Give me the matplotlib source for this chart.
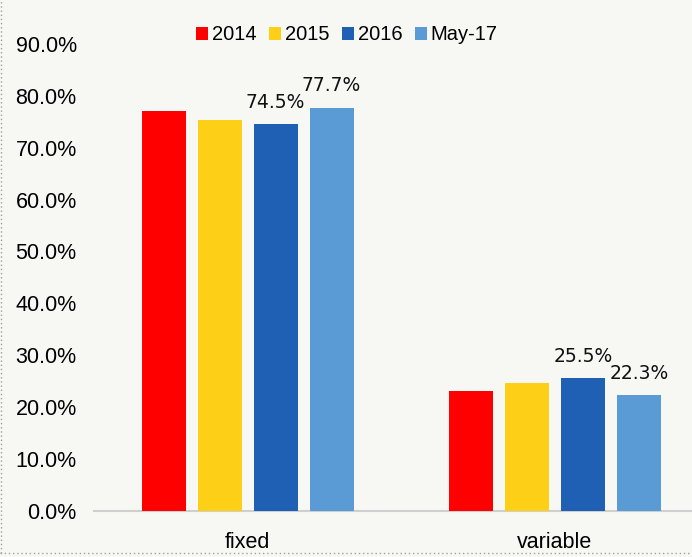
import numpy as np
import matplotlib.pyplot as plt
from matplotlib.lines import Line2D

categories = ['fixed', 'variable']
series = ['2014', '2015', '2016', 'May-17']
values = {
    '2014': [77.0, 23.1],
    '2015': [75.3, 24.7],
    '2016': [74.5, 25.5],
    'May-17': [77.7, 22.3],
}
# which bars carry a data label
labelled = ['2016', 'May-17']
colors = ['#FF0000', '#FDD017', '#1F5FB4', '#5B9BD5']
yticks = np.arange(0, 91, 10)

bg = '#F7F8F4'
fig = plt.figure(figsize=(6.92, 5.57), dpi=100, facecolor=bg)
ax = fig.add_axes([94 / 692, 46.3 / 557, 1 - 94 / 692, (510.7 - 44) / 557])
ax.set_facecolor(bg)

x = np.arange(len(categories))
width = 0.143
step = 0.182
for i, (name, col) in enumerate(zip(series, colors)):
    pos = x + (i - 1.5) * step
    bars = ax.bar(pos, values[name], width, color=col, label=name, zorder=3)
    if name in labelled:
        for b, v in zip(bars, values[name]):
            ax.annotate(f'{v:.1f}%', (b.get_x() + b.get_width() / 2, v),
                        xytext=(0, 9), textcoords='offset points',
                        ha='center', va='bottom', fontsize=13.5,
                        family='DejaVu Sans', color='#111111')

ax.set_xlim(-0.5, 1.446)
ax.set_ylim(0, 90)
ax.set_yticks(yticks)
ax.set_yticklabels([f'{t:.1f}%' for t in yticks], family='Liberation Sans', fontsize=15.5)
ax.set_xticks(x)
ax.set_xticklabels(categories, family='Liberation Sans', fontsize=15.5)
ax.tick_params(length=0, pad=12.5, axis='y')
ax.tick_params(length=0, pad=15, axis='x')
for s in ['top', 'right', 'left']:
    ax.spines[s].set_visible(False)
ax.spines['bottom'].set_color('#CFCFCF')
ax.spines['bottom'].set_linewidth(1.5)

leg = ax.legend(loc='center', bbox_to_anchor=(347 / 692, 1 - 35 / 557),
                bbox_transform=fig.transFigure, ncol=4, frameon=False,
                prop={'family': 'Liberation Sans', 'size': 14.5},
                handlelength=0.6, handleheight=0.6, handletextpad=0.2,
                columnspacing=0.6, borderaxespad=0)

# dotted frame on the left and bottom edges
fig.add_artist(Line2D([1 / 692, 1 / 692], [4 / 557, 1], transform=fig.transFigure,
                      color='#A0A0A0', lw=1, ls=(0, (1, 2))))
fig.add_artist(Line2D([0, 1], [4 / 557, 4 / 557], transform=fig.transFigure,
                      color='#A0A0A0', lw=1, ls=(0, (1, 2))))

fig.savefig('out.png', dpi=100, facecolor=bg)
